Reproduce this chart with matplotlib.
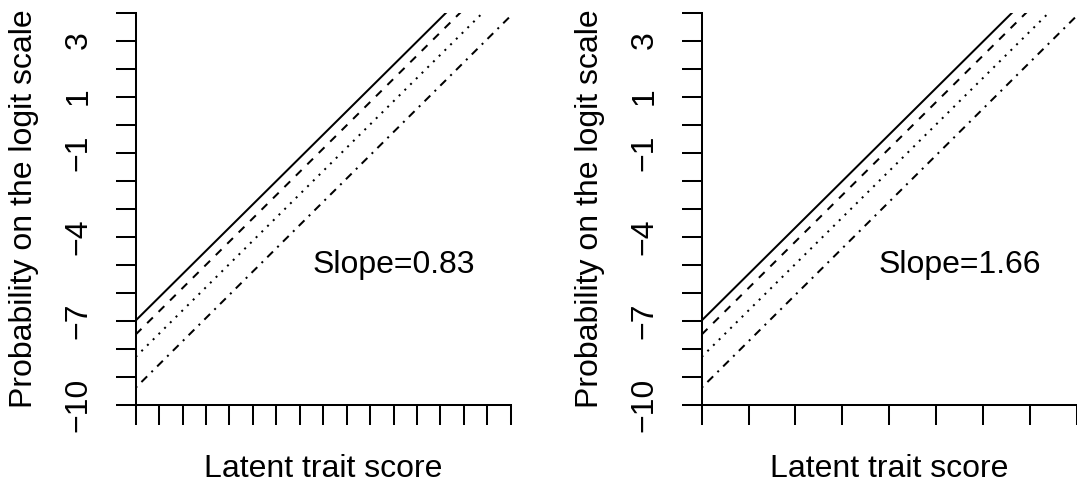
import numpy as np
import matplotlib
matplotlib.use("Agg")
import matplotlib.pyplot as plt

plt.rcParams["font.family"] = ["Liberation Sans", "DejaVu Sans"]

# two panels: same intercepts, slope doubled and x range halved
slopes = [0.83, 1.66]
x_upper = [16, 8]
intercepts = [-7.0, -7.5, -8.3, -9.4]
line_styles = ["-", (0, (4, 4)), (0, (1, 3)), (0, (1, 3, 4, 3))]
y_ticks = list(range(-10, 5))
y_labelled = [-10, -7, -4, -1, 1, 3]

W, H = 1077, 484
fig = plt.figure(figsize=(W / 100, H / 100), dpi=100)
panel_left = [135.7, 701.7]
fs = 23
lw = 1.45

for left, slope, xmax in zip(panel_left, slopes, x_upper):
    ax = fig.add_axes([left / W, 1 - 404.5 / H, 375 / W, 392 / H])
    xs = np.array([0.0, xmax])
    for b, ls in zip(intercepts, line_styles):
        ax.plot(xs, b + slope * xs, color="black", lw=lw, linestyle=ls,
                dash_capstyle="butt", solid_capstyle="butt")
    ax.set_xlim(0, xmax)
    ax.set_ylim(-10, 4)
    for side in ["top", "right"]:
        ax.spines[side].set_visible(False)
    for side in ["left", "bottom"]:
        ax.spines[side].set_linewidth(lw)

    ax.set_xticks(range(xmax + 1))
    ax.set_xticklabels([])
    ax.set_yticks(y_ticks)
    ax.set_yticklabels([str(v).replace("-", "\u2212") if v in y_labelled else ""
                        for v in y_ticks])
    ax.tick_params(direction="out", length=14.4, width=lw, labelsize=fs, pad=16)
    for lab in ax.get_yticklabels():
        lab.set_rotation(90)
        lab.set_va("center")

    ax.set_ylabel("Probability on the logit scale", fontsize=fs)
    ax.yaxis.set_label_coords((24 - 135.7) / 375, 0.5)
    ax.yaxis.label.set_va("center")
    ax.set_xlabel("Latent trait score", fontsize=fs)
    ax.xaxis.set_label_coords(0.5, (404.5 - 477) / 392)
    ax.xaxis.label.set_va("baseline")

    ax.text(xmax * 11 / 16, -5, f"Slope={slope:.2f}", ha="center", va="center",
            fontsize=fs)

fig.savefig("out.png", dpi=100)
